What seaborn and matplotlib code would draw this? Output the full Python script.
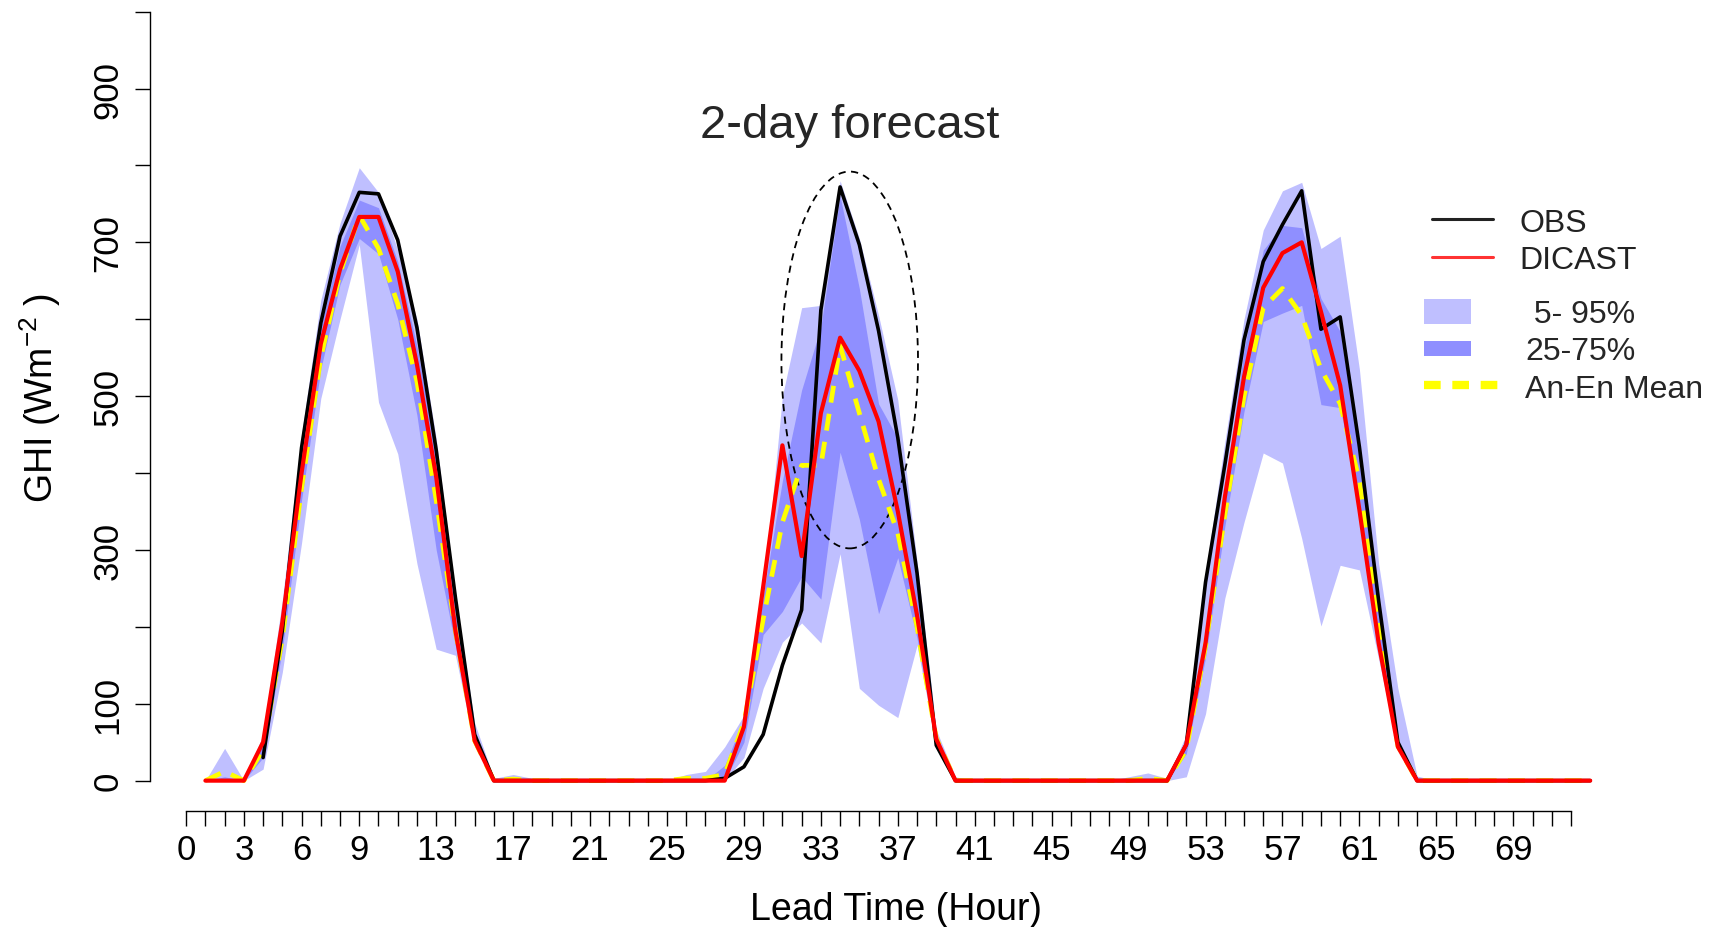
import numpy as np
import pandas as pd
import matplotlib
matplotlib.use("Agg")
import matplotlib.pyplot as plt
import seaborn as sns
from matplotlib.patches import Ellipse, Patch, Rectangle
from matplotlib.lines import Line2D
from matplotlib.legend_handler import HandlerPatch

# ---------------- data (GHI, W m^-2) ----------------
hours = list(range(1, 74))
nan = np.nan

obs = [nan, nan, nan, 30, 195, 433, 595, 708, 765, 763, 703, 589, 430, 238, 60, 0,
       0, 0, 0, 0, 0, 0, 0, 0, 0, 0, 0,
       3, 18, 60, 150, 222, 612, 772, 697, 585, 446, 270, 46, 0,
       0, 0, 0, 0, 0, 0, 0, 0, 0, 0, 0,
       47, 258, 410, 573, 675, 723, 767, 587, 603, 434, 234, 50, 0,
       0, 0, 0, 0, 0, 0, 0, 0, 0]

dicast = [0, 0, 0, 50, 206, 400, 568, 665, 733, 733, 662, 541, 395, 195, 52, 0,
          0, 0, 0, 0, 0, 0, 0, 0, 0, 0, 0,
          0, 70, 252, 436, 292, 478, 576, 533, 467, 350, 215, 54, 0,
          0, 0, 0, 0, 0, 0, 0, 0, 0, 0, 0,
          47, 179, 368, 525, 641, 686, 700, 610, 514, 352, 179, 44, 0,
          0, 0, 0, 0, 0, 0, 0, 0, 0]

anen_mean = [0, 12, 0, 40, 185, 380, 550, 660, 735, 692, 620, 519, 365, 195, 52, 0,
             2, 0, 0, 0, 0, 0, 0, 0, 0, 3, 3,
             8, 75, 210, 336, 410, 410, 566, 478, 392, 322, 200, 55, 0,
             0, 0, 0, 0, 0, 0, 0, 0, 0, 3, 0,
             40, 175, 345, 500, 615, 640, 605, 535, 490, 390, 205, 45, 0,
             0, 0, 0, 0, 0, 0, 0, 0, 0]

p05 = [0, 0, 0, 15, 141, 309, 497, 600, 697, 492, 425, 282, 171, 163, 44, 0,
       0, 0, 0, 0, 0, 0, 0, 0, 0, 0, 0,
       0, 30, 120, 180, 205, 179, 295, 120, 98, 82, 176, 44, 0,
       0, 0, 0, 0, 0, 0, 0, 0, 0, 0, 0,
       5, 87, 237, 336, 426, 413, 315, 201, 280, 274, 158, 40, 0,
       0, 0, 0, 0, 0, 0, 0, 0, 0]

p95 = [0, 42, 0, 60, 235, 450, 625, 725, 797, 765, 690, 600, 445, 240, 75, 3,
       8, 3, 0, 0, 0, 0, 0, 0, 0, 8, 12,
       44, 85, 240, 500, 615, 618, 780, 705, 605, 495, 285, 66, 5,
       0, 0, 0, 0, 0, 0, 0, 0, 5, 10, 3,
       60, 270, 440, 600, 716, 767, 778, 692, 708, 535, 282, 120, 6,
       0, 0, 0, 0, 0, 0, 0, 0, 0]

p25 = [0, 0, 0, 30, 170, 365, 535, 645, 705, 685, 600, 475, 300, 175, 45, 0,
       0, 0, 0, 0, 0, 0, 0, 0, 0, 0, 0,
       0, 50, 190, 220, 265, 236, 427, 340, 217, 290, 185, 48, 0,
       0, 0, 0, 0, 0, 0, 0, 0, 0, 0, 0,
       35, 160, 330, 480, 597, 608, 618, 489, 485, 360, 180, 40, 0,
       0, 0, 0, 0, 0, 0, 0, 0, 0]

p75 = [0, 5, 0, 50, 210, 420, 590, 695, 755, 745, 675, 565, 425, 220, 60, 0,
       0, 0, 0, 0, 0, 0, 0, 0, 0, 0, 0,
       20, 80, 240, 390, 508, 590, 760, 640, 490, 445, 250, 58, 0,
       0, 0, 0, 0, 0, 0, 0, 0, 0, 0, 0,
       50, 190, 380, 560, 690, 722, 719, 627, 584, 420, 220, 50, 0,
       0, 0, 0, 0, 0, 0, 0, 0, 0]

x_tick_labels = [0, 3, 6, 9, 13, 17, 21, 25, 29, 33, 37, 41, 45, 49, 53, 57, 61, 65, 69]
y_tick_labels = [0, 100, 300, 500, 700, 900]

df = pd.DataFrame({"hour": hours, "OBS": obs, "DICAST": dicast, "mean": anen_mean,
                   "p05": p05, "p95": p95, "p25": p25, "p75": p75})

# ---------------- style ----------------
sns.set_theme(style="white")
plt.rcParams['font.family'] = ['Liberation Sans', 'DejaVu Sans']
plt.rcParams['mathtext.fontset'] = 'custom'
plt.rcParams['mathtext.rm'] = 'Liberation Sans'
plt.rcParams['mathtext.it'] = 'Liberation Sans'

fig = plt.figure(figsize=(17.14, 9.28), dpi=100)
ax = fig.add_axes([150 / 1714, 1 - 812.4 / 928, 1495.6 / 1714, 812.4 / 928])

band = (0, 0, 1, 0.25)
ax.fill_between(df["hour"], df["p05"], df["p95"], color=band, lw=0)
ax.fill_between(df["hour"], df["p25"], df["p75"], color=band, lw=0)

sns.lineplot(data=df, x="hour", y="mean", ax=ax, color="#ffff00", lw=3.4,
             linestyle=(0, (3.6, 2.4)), dash_capstyle="butt")
sns.lineplot(data=df.dropna(subset=["OBS"]), x="hour", y="OBS", ax=ax, color="black", lw=2.6)
sns.lineplot(data=df, x="hour", y="DICAST", ax=ax, color="#ff0000", lw=3.0)

ax.add_patch(Ellipse((34.5, 547), width=7.1, height=490, fill=False,
                     ls=(0, (4, 3)), lw=1.3, ec="black"))

ax.set_xlim(-1.88, 75.88)
ax.set_ylim(-40, 1016.4)

for s in ["top", "right"]:
    ax.spines[s].set_visible(False)
for s in ["left", "bottom"]:
    ax.spines[s].set_color("black")
    ax.spines[s].set_linewidth(1.0)
ax.spines["left"].set_bounds(0, 1000)
ax.spines["bottom"].set_bounds(0, 72)

ax.set_xticks(range(0, 73))
ax.set_xticklabels([str(i) if i in x_tick_labels else "" for i in range(0, 73)])
ax.set_yticks(range(0, 1001, 100))
ax.set_yticklabels([str(v) if v in y_tick_labels else "" for v in range(0, 1001, 100)])
ax.tick_params(axis="both", direction="out", length=10.5, width=1.0, color="black",
               labelsize=25, labelcolor="black")
ax.tick_params(axis="x", pad=5)
ax.tick_params(axis="y", pad=8)
ax.tick_params(bottom=True, left=True)
for lab in ax.get_yticklabels():
    lab.set_rotation(90)
    lab.set_va("center")

ax.set_xlabel("Lead Time (Hour)", fontsize=27, color="black")
ax.xaxis.set_label_coords((896 - 150) / 1495.6, -(910.5 - 812.4) / 812.4)
ax.xaxis.label.set_va("center")
ax.set_ylabel("GHI (Wm$^{-2}$ )", fontsize=27, color="black")
ax.yaxis.set_label_coords((40 - 150) / 1495.6, (812.4 - 398) / 812.4)
ax.yaxis.label.set_va("center")

fig.text(850 / 1714, 1 - 126.5 / 928, "2-day forecast", fontsize=34, ha="center", va="center")


# ---------------- legend ----------------
def tall_rect(legend, orig_handle, xdescent, ydescent, width, height, fontsize):
    w = width * 0.55
    h = height * 1.0
    return Rectangle((-xdescent, -ydescent + (height - h) / 2), w, h)


def short_rect(legend, orig_handle, xdescent, ydescent, width, height, fontsize):
    w = width * 0.55
    h = height * 0.6
    return Rectangle((-xdescent, -ydescent + (height - h) / 2), w, h)


leg1 = ax.legend([Line2D([], [], color="#222222", lw=2.2),
                  Line2D([], [], color="#ff3333", lw=2.2)],
                 ["OBS", "DICAST"], loc="upper left",
                 bbox_to_anchor=(1432 / 1714, 1 - 208.5 / 928), bbox_transform=fig.transFigure,
                 frameon=False, fontsize=23, handlelength=1.9, handletextpad=0.85,
                 labelspacing=0.25, borderpad=0, borderaxespad=0)
for t in leg1.get_texts():
    t.set_color("#222222")
ax.add_artist(leg1)

light_patch = Patch(facecolor=band, edgecolor="none")
med_patch = Patch(facecolor=(0.56, 0.56, 1.0), edgecolor="none")
leg2 = ax.legend([light_patch, med_patch,
                  Line2D([], [], color="#ffff00", lw=6, linestyle=(0, (2.0, 1.4)))],
                 [" 5- 95%", "25-75%", "An-En Mean"], loc="upper left",
                 bbox_to_anchor=(1424 / 1714, 1 - 299.5 / 928), bbox_transform=fig.transFigure,
                 frameon=False, fontsize=23, handlelength=2.66, handleheight=0.85,
                 handletextpad=0.5, labelspacing=0.2, borderpad=0, borderaxespad=0,
                 handler_map={light_patch: HandlerPatch(patch_func=tall_rect),
                              med_patch: HandlerPatch(patch_func=short_rect)})

fig.savefig("out.png", dpi=100)
